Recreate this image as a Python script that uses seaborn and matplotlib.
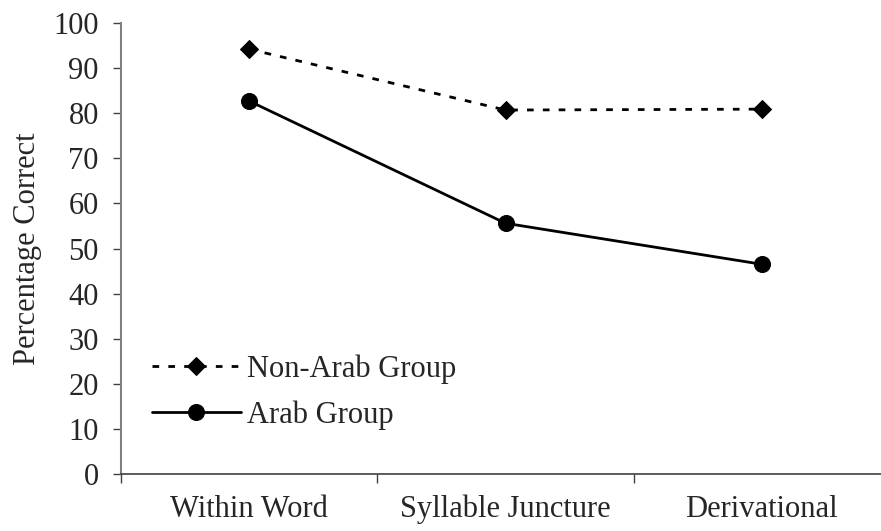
import matplotlib
matplotlib.use("Agg")
import matplotlib.pyplot as plt
import seaborn as sns
import pandas as pd
from matplotlib.ticker import FixedLocator

categories = ["Within Word", "Syllable Juncture", "Derivational"]
non_arab = [94.2, 80.7, 80.9]
arab = [82.7, 55.6, 46.5]
series_names = ["Non-Arab Group", "Arab Group"]
yticks = list(range(0, 101, 10))

df = pd.DataFrame({
    "x": [0, 1, 2] * 2,
    "val": non_arab + arab,
    "group": [series_names[0]] * 3 + [series_names[1]] * 3,
})

sns.set_style("white")
plt.rcParams["font.family"] = ["Liberation Serif", "DejaVu Serif"]
FS = 22

W, H = 881, 531
fig = plt.figure(figsize=(W / 100, H / 100), dpi=100)
ax = fig.add_axes([121 / W, 1 - 474 / H, (890 - 121) / W, (474 - 23) / H])

sns.lineplot(data=df, x="x", y="val", hue="group", style="group",
             hue_order=series_names, style_order=series_names,
             palette={series_names[0]: "black", series_names[1]: "black"},
             markers={series_names[0]: "D", series_names[1]: "o"},
             dashes={series_names[0]: (2.4, 3.3), series_names[1]: ""},
             markersize=11.5, linewidth=2, markeredgecolor="black",
             ax=ax, legend=True)
for line in ax.get_lines():
    if line.get_marker() == "D":
        line.set_markersize(9)
    line.set_dash_capstyle("butt")

ax.set_xlim(-0.5, 2.5)
ax.set_ylim(0, 100)
ax.set_yticks(yticks)
ax.set_yticklabels([str(t) for t in yticks], fontsize=FS)
ax.set_xticks([0, 1, 2])
ax.set_xticklabels(categories, fontsize=FS)
ax.tick_params(axis="x", which="major", length=0, pad=15)
ax.xaxis.set_minor_locator(FixedLocator([-0.5, 0.5, 1.5, 2.5]))
ax.tick_params(axis="x", which="minor", length=6.5, width=1, color="#404040",
               direction="out", bottom=True)
ax.tick_params(axis="y", which="major", length=6, width=1, color="#404040",
               direction="out", left=True, pad=10)
ax.set_xlabel("")
ax.set_ylabel("Percentage Correct", fontsize=FS)
ax.yaxis.set_label_coords((42 - 121) / (890 - 121), 0.5)

for s in ["top", "right"]:
    ax.spines[s].set_visible(False)
ax.spines["left"].set_color("#808080")
ax.spines["left"].set_linewidth(1.5)
ax.spines["bottom"].set_color("#404040")
ax.spines["bottom"].set_linewidth(1.2)

leg = ax.legend(loc="upper left", bbox_to_anchor=(152 / W, 1 - 354 / H),
                bbox_transform=fig.transFigure, frameon=False, borderpad=0,
                borderaxespad=0, fontsize=FS, handlelength=2.9,
                handletextpad=0.2, labelspacing=0.55)
for h in leg.legend_handles:
    h.set_color("black")

fig.savefig("out.png", dpi=100)
